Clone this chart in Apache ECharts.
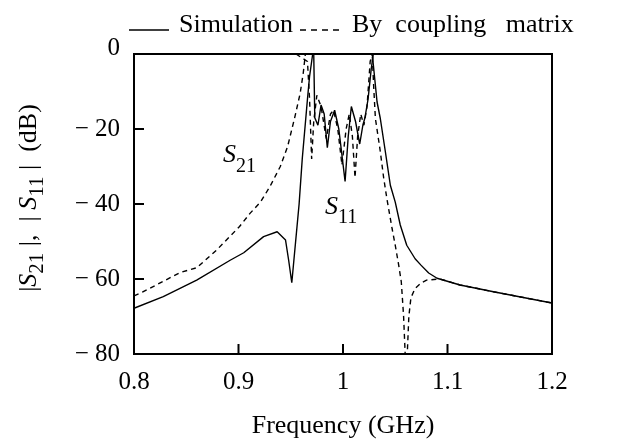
<!DOCTYPE html>
<html>
<head>
<meta charset="utf-8">
<title>S21 / S11</title>
<script src="https://cdn.jsdelivr.net/npm/echarts@6/dist/echarts.min.js"></script>
<style>
html,body{margin:0;padding:0;background:#fff;}
#main{width:617px;height:439px;}
</style>
</head>
<body>
<div id="main"></div>
<script type="text/javascript">
// values: [frequency GHz, dB]
var s21Sim = [[0.800,-67.8],[0.828,-64.7],[0.860,-60.3],[0.892,-55],[0.905,-53],[0.924,-48.7],[0.937,-47.4],[0.945,-49.6],[0.948,-55],[0.951,-61],[0.953,-55],[0.956,-46],
  [0.958,-40],[0.961,-28],[0.966,-12],[0.968,-6],[0.971,0],[1.028,0],[1.0326,-12.8],[1.0357,-17.2],[1.0405,-26],[1.0453,-35],[1.050,-39.5],[1.0548,-45.6],
  [1.061,-51],[1.069,-54.6],[1.0746,-56.3],[1.082,-58.4],[1.090,-59.8],[1.112,-61.6],[1.144,-63.4],[1.170,-64.8],[1.200,-66.4]];
var s11Sim = [[0.955,0],[0.972,0],[0.973,-17],[0.976,-19],[0.979,-13.6],[0.982,-16],[0.985,-25],[0.988,-18],[0.992,-15],[0.996,-20],[1.002,-34],
  [1.005,-22],[1.008,-14],[1.012,-18],[1.016,-24],[1.019,-19],[1.021,-17],[1.024,-12],[1.027,-4],[1.029,0],[1.045,0]];
var s21Cm = [[0.800,-64.5],[0.808,-63.5],[0.844,-58.3],[0.860,-57],[0.879,-52.3],[0.901,-46],[0.911,-42.5],[0.921,-39.5],[0.930,-35.4],[0.940,-30],
  [0.947,-24.7],[0.954,-16.7],[0.959,-10.5],[0.962,-5],[0.964,0],[1.028,0],[1.0293,-8.4],[1.031,-17.2],[1.0357,-26],[1.0389,-33],[1.042,-38.6],
  [1.047,-46.6],[1.050,-51],[1.0533,-56.3],[1.0558,-60.8],[1.058,-70],[1.0595,-80],[1.0615,-80],[1.063,-70],[1.065,-65],[1.069,-62.5],
  [1.075,-61],[1.080,-60.3],[1.093,-60],[1.112,-61.6],[1.144,-63.4],[1.170,-64.8],[1.200,-66.4]];
var s11Cm = [[0.955,0],[0.966,-2],[0.968,-12],[0.970,-28],[0.972,-18],[0.975,-11],[0.979,-14],[0.984,-22.6],[0.988,-16],[0.991,-15],[0.995,-20],
  [0.999,-29.6],[1.003,-20],[1.006,-16],[1.009,-22],[1.0115,-33],[1.014,-22],[1.017,-16],[1.020,-19],[1.023,-14],[1.026,-2],[1.028,0],[1.045,0]];
var xTicks = [0.8, 0.9, 1, 1.1, 1.2];
var yTicks = [0, -20, -40, -60, -80];
var legendNames = ['Simulation', 'By  coupling   matrix'];

var FONT = '"Liberation Serif", "Times New Roman", serif';
var xMin = xTicks[0], xMax = xTicks[xTicks.length - 1];
var yMax = yTicks[0], yMin = yTicks[yTicks.length - 1];

var mctx = document.createElement('canvas').getContext('2d');
function textWidth(t, size, italic) {
  mctx.font = (italic ? 'italic ' : '') + size + 'px ' + FONT;
  return mctx.measureText(t).width;
}
// pieces: [text, kind] kind = '', 'it' (italic), 'sub'
function subscriptText(pieces, size, subSize, drop) {
  var x = 0, kids = [];
  pieces.forEach(function (p) {
    var sub = p[1] === 'sub', it = p[1] === 'it';
    var fs = sub ? subSize : size;
    kids.push({
      type: 'text', x: x, y: sub ? drop : 0,
      style: { text: p[0], font: (it ? 'italic ' : '') + fs + 'px ' + FONT, fill: '#000',
        verticalAlign: 'middle', textVerticalAlign: 'middle' }
    });
    x += textWidth(p[0], fs, it);
  });
  return { kids: kids, width: x };
}

var yName = subscriptText([['|', ''], ['S', 'it'], ['21', 'sub'], [' |,  | ', ''], ['S', 'it'], ['11', 'sub'], [' |  (dB)', '']], 26, 21, 8);
yName.kids.forEach(function (k) { k.x -= yName.width / 2; });
var lab21 = subscriptText([['S', 'it'], ['21', 'sub']], 26, 20, 12);
var lab11 = subscriptText([['S', 'it'], ['11', 'sub']], 26, 20, 11);

// legend drawn by hand: sample line + text
function legendItem(x, lineLen, dash, label) {
  return { type: 'group', x: x, y: 25, children: [
    { type: 'line', shape: { x1: 0, y1: 5, x2: lineLen, y2: 5 },
      style: { stroke: '#000', lineWidth: 1.5, lineDash: dash } },
    { type: 'text', x: lineLen + 10, y: 0,
      style: { text: label, font: '26px ' + FONT, fill: '#000', verticalAlign: 'middle', textVerticalAlign: 'middle' } }
  ] };
}

// inward tick marks: [x, y, 0 = bottom axis tick / 1 = left axis tick]
var tickMarks = [];
xTicks.slice(1, -1).forEach(function (v) { tickMarks.push([v, yMin, 0]); });
yTicks.slice(1, -1).forEach(function (v) { tickMarks.push([xMin, v, 1]); });

var myChart = echarts.init(document.getElementById('main'));
var solid = { color: '#000', width: 1.4, type: 'solid' };
var dashed = { color: '#000', width: 1.4, type: [5, 4] };
function line(name, data, style) {
  return { type: 'line', name: name, data: data, symbol: 'none', lineStyle: style, itemStyle: { color: '#000' }, z: 3 };
}
var option = {
  animation: false,
  backgroundColor: '#fff',
  grid: { left: 134, right: 65, top: 54, bottom: 85, outerBoundsMode: 'none',
    show: true, borderColor: '#000', borderWidth: 2, backgroundColor: 'transparent' },
  xAxis: {
    type: 'value', min: xMin, max: xMax, interval: 0.1, position: 'bottom',
    axisLine: { onZero: false, lineStyle: { color: '#000', width: 2 } },
    axisTick: { show: false },
    axisLabel: { margin: 16, fontFamily: FONT, fontSize: 25, color: '#000',
      formatter: function (v) { return String(+v.toFixed(1)); } },
    splitLine: { show: false },
    name: 'Frequency (GHz)', nameLocation: 'middle', nameGap: 59,
    nameTextStyle: { fontFamily: FONT, fontSize: 26, color: '#000' }
  },
  yAxis: {
    type: 'value', min: yMin, max: yMax, interval: 20, position: 'left',
    axisLine: { onZero: false, lineStyle: { color: '#000', width: 2 } },
    axisTick: { show: false },
    axisLabel: { margin: 14, fontFamily: FONT, fontSize: 25, color: '#000',
      formatter: function (v) { return v === 0 ? '{top|0}' : '\u2212 ' + (-v); },
      rich: { top: { fontFamily: FONT, fontSize: 25, color: '#000', padding: [0, 0, 12, 0] } } },
    splitLine: { show: false }
  },
  graphic: [
    legendItem(129, 40, null, legendNames[0]),
    legendItem(300, 42, [6, 5], legendNames[1]),
    { type: 'group', x: 29, y: 198, rotation: Math.PI / 2, children: yName.kids },
    { type: 'group', x: 223, y: 155, children: lab21.kids },
    { type: 'group', x: 325, y: 207, children: lab11.kids }
  ],
  series: [
    line(legendNames[0], s21Sim, solid),
    line(legendNames[0], s11Sim, solid),
    line(legendNames[1], s21Cm, dashed),
    line(legendNames[1], s11Cm, dashed),
    {
      type: 'custom', data: tickMarks, silent: true, z: 4, clip: false,
      renderItem: function (params, api) {
        var p = api.coord([api.value(0), api.value(1)]);
        var bottom = api.value(2) === 0;
        return { type: 'line',
          shape: bottom ? { x1: p[0], y1: p[1], x2: p[0], y2: p[1] - 10 } : { x1: p[0], y1: p[1], x2: p[0] + 10, y2: p[1] },
          style: { stroke: '#000', lineWidth: 2 } };
      }
    }
  ]
};
myChart.setOption(option);
</script>
</body>
</html>
